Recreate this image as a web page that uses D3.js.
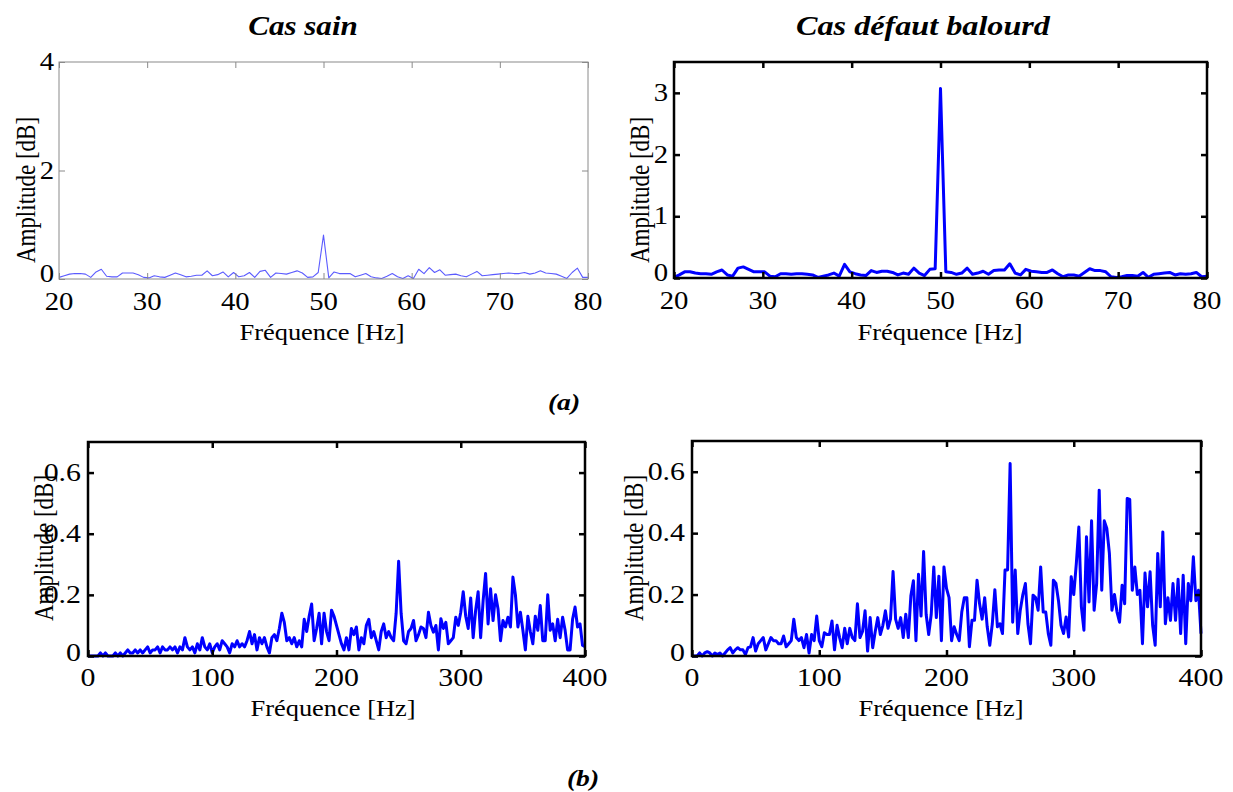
<!DOCTYPE html>
<html>
<head>
<meta charset="utf-8">
<script src="https://cdn.jsdelivr.net/npm/d3@7"></script>
<style>
  html, body { margin: 0; padding: 0; background: #fff; }
  svg text { font-family: "Liberation Serif", "Times New Roman", serif; fill: #000; }
</style>
</head>
<body>
<div id="chart"></div>
<script>
// frequency grids (Hz)
var topStart = 20, topStep = 0.6, topEnd = 80;
var botStart = 0, botStep = 2, botEnd = 400;

// tick labels
var topXTicks = [20, 30, 40, 50, 60, 70, 80];
var sainTopYTicks = [0, 2, 4];
var balTopYTicks = [0, 1, 2, 3];
var botXTicks = [0, 100, 200, 300, 400];
var botYTicks = [0, 0.2, 0.4, 0.6];

// (a) Cas sain, 20-80 Hz
var sainLow = [
  0.03, 0.06, 0.09, 0.10, 0.10, 0.09, 0.03, 0.13, 0.18, 0.05,
  0.04, 0.04, 0.11, 0.11, 0.11, 0.08, 0.03, 0.02, 0.06, 0.04,
  0.03, 0.07, 0.11, 0.08, 0.04, 0.05, 0.07, 0.07, 0.15, 0.06,
  0.08, 0.13, 0.04, 0.12, 0.04, 0.06, 0.12, 0.03, 0.14, 0.16,
  0.03, 0.11, 0.10, 0.09, 0.12, 0.15, 0.11, 0.03, 0.04, 0.12,
  0.81, 0.02, 0.13, 0.10, 0.10, 0.10, 0.04, 0.07, 0.10, 0.04,
  0.02, 0.01, 0.05, 0.10, 0.04, 0.01, 0.06, 0.01, 0.18, 0.10,
  0.21, 0.12, 0.17, 0.07, 0.08, 0.09, 0.06, 0.04, 0.09, 0.14,
  0.06, 0.07, 0.08, 0.09, 0.10, 0.11, 0.10, 0.10, 0.12, 0.09,
  0.11, 0.15, 0.11, 0.10, 0.09, 0.05, 0.01, 0.12, 0.20, 0.03,
  0.03
];

// (a) Cas défaut balourd, 20-80 Hz
var balourdLow = [
  0.01, 0.05, 0.10, 0.10, 0.08, 0.07, 0.07, 0.06, 0.10, 0.13,
  0.05, 0.03, 0.16, 0.18, 0.14, 0.10, 0.10, 0.10, 0.03, 0.02,
  0.07, 0.07, 0.06, 0.07, 0.07, 0.06, 0.05, 0.01, 0.03, 0.05,
  0.08, 0.03, 0.22, 0.10, 0.07, 0.05, 0.04, 0.12, 0.09, 0.11,
  0.11, 0.09, 0.05, 0.08, 0.06, 0.16, 0.08, 0.04, 0.14, 0.15,
  3.07, 0.10, 0.09, 0.06, 0.08, 0.16, 0.06, 0.08, 0.11, 0.06,
  0.12, 0.13, 0.13, 0.23, 0.08, 0.05, 0.14, 0.11, 0.10, 0.09,
  0.09, 0.13, 0.07, 0.02, 0.05, 0.05, 0.03, 0.09, 0.15, 0.12,
  0.12, 0.10, 0.02, 0.01, 0.02, 0.04, 0.04, 0.03, 0.09, 0.01,
  0.06, 0.07, 0.08, 0.09, 0.05, 0.07, 0.06, 0.07, 0.09, 0.02,
  0.03
];

// (b) Cas sain, 0-400 Hz
var sainHigh = [
  0.00, 0.00, 0.00, 0.00, 0.00, 0.01, 0.00, 0.01, 0.00, 0.00,
  0.00, 0.01, 0.00, 0.01, 0.00, 0.01, 0.02, 0.01, 0.01, 0.02,
  0.01, 0.02, 0.01, 0.02, 0.03, 0.01, 0.02, 0.02, 0.03, 0.01,
  0.03, 0.02, 0.02, 0.03, 0.02, 0.03, 0.01, 0.03, 0.02, 0.06,
  0.03, 0.02, 0.03, 0.01, 0.04, 0.02, 0.06, 0.03, 0.02, 0.04,
  0.01, 0.03, 0.04, 0.02, 0.05, 0.04, 0.03, 0.01, 0.04, 0.03,
  0.05, 0.03, 0.04, 0.03, 0.05, 0.08, 0.04, 0.07, 0.02, 0.06,
  0.04, 0.06, 0.03, 0.01, 0.06, 0.07, 0.05, 0.09, 0.14, 0.11,
  0.05, 0.06, 0.04, 0.06, 0.03, 0.05, 0.03, 0.12, 0.08, 0.13,
  0.17, 0.05, 0.09, 0.14, 0.04, 0.14, 0.08, 0.05, 0.15, 0.13,
  0.10, 0.07, 0.04, 0.02, 0.06, 0.02, 0.09, 0.07, 0.095, 0.02,
  0.06, 0.04, 0.10, 0.12, 0.06, 0.08, 0.05, 0.02, 0.08, 0.105,
  0.06, 0.08, 0.06, 0.05, 0.14, 0.31, 0.14, 0.05, 0.04, 0.08,
  0.09, 0.116, 0.05, 0.07, 0.095, 0.09, 0.06, 0.143, 0.10, 0.078,
  0.10, 0.02, 0.122, 0.09, 0.11, 0.04, 0.05, 0.06, 0.127, 0.10,
  0.143, 0.21, 0.13, 0.09, 0.19, 0.06, 0.15, 0.21, 0.06, 0.18,
  0.27, 0.105, 0.22, 0.116, 0.20, 0.154, 0.05, 0.116, 0.095, 0.127,
  0.095, 0.258, 0.20, 0.095, 0.143, 0.084, 0.02, 0.13, 0.08, 0.04,
  0.13, 0.084, 0.165, 0.05, 0.05, 0.20, 0.084, 0.105, 0.05, 0.12,
  0.06, 0.127, 0.084, 0.02, 0.02, 0.12, 0.16, 0.095, 0.105, 0.035,
  0.03
];

// (b) Cas défaut balourd, 0-400 Hz
var balourdHigh = [
  0.00, 0.00, 0.00, 0.01, 0.00, 0.01, 0.014, 0.01, 0.00, 0.01,
  0.005, 0.01, 0.00, 0.01, 0.02, 0.027, 0.01, 0.02, 0.027, 0.02,
  0.02, 0.005, 0.027, 0.03, 0.06, 0.016, 0.04, 0.05, 0.06, 0.02,
  0.04, 0.06, 0.05, 0.05, 0.04, 0.04, 0.065, 0.03, 0.04, 0.05,
  0.12, 0.06, 0.05, 0.06, 0.027, 0.07, 0.01, 0.07, 0.05, 0.13,
  0.05, 0.03, 0.076, 0.07, 0.07, 0.114, 0.02, 0.10, 0.06, 0.027,
  0.09, 0.04, 0.09, 0.06, 0.05, 0.17, 0.06, 0.08, 0.147, 0.016,
  0.125, 0.027, 0.08, 0.125, 0.07, 0.10, 0.147, 0.09, 0.12, 0.275,
  0.12, 0.09, 0.125, 0.06, 0.136, 0.06, 0.196, 0.245, 0.05, 0.266,
  0.13, 0.34, 0.136, 0.07, 0.136, 0.29, 0.125, 0.26, 0.05, 0.29,
  0.22, 0.19, 0.05, 0.095, 0.07, 0.05, 0.143, 0.19, 0.19, 0.03,
  0.116, 0.116, 0.247, 0.17, 0.12, 0.19, 0.095, 0.035, 0.105, 0.216,
  0.095, 0.105, 0.073, 0.28, 0.28, 0.627, 0.11, 0.28, 0.073, 0.15,
  0.20, 0.236, 0.105, 0.04, 0.198, 0.19, 0.149, 0.29, 0.143, 0.143,
  0.073, 0.035, 0.247, 0.236, 0.18, 0.10, 0.073, 0.127, 0.062, 0.258,
  0.20, 0.30, 0.42, 0.16, 0.084, 0.388, 0.176, 0.44, 0.149, 0.236,
  0.54, 0.214, 0.44, 0.415, 0.334, 0.149, 0.20, 0.143, 0.11, 0.23,
  0.17, 0.513, 0.51, 0.214, 0.29, 0.20, 0.214, 0.04, 0.27, 0.16,
  0.274, 0.10, 0.035, 0.334, 0.16, 0.404, 0.105, 0.19, 0.116, 0.236,
  0.116, 0.25, 0.073, 0.263, 0.04, 0.236, 0.18, 0.323, 0.18, 0.214,
  0.073
];

var W = 1233, H = 792;
var SX = 1.15;   // the figure is wider than tall, stretch text to match

var svg = d3.select('#chart').append('svg')
  .attr('width', W).attr('height', H);

function txt(g, x, y, s, size, opts) {
  opts = opts || {};
  var t = g.append('text')
    .attr('transform', 'translate(' + x + ',' + y + ') scale(' + SX + ',1)' + (opts.rot ? ' rotate(-90)' : ''))
    .attr('text-anchor', opts.anchor || 'middle')
    .style('font-size', size + 'px')
    .text(s);
  if (opts.bold) t.style('font-weight', 'bold');
  if (opts.italic) t.style('font-style', 'italic');
  if (opts.baseline) t.attr('dominant-baseline', opts.baseline);
  return t;
}

function grid(start, step, n) {
  var out = [];
  for (var i = 0; i < n; i++) out.push(+(start + step * i).toFixed(3));
  return out;
}

function drawPanel(p) {
  var g = svg.append('g');
  var x = d3.scaleLinear().domain(p.xDomain).range([p.left, p.right]);
  var y = d3.scaleLinear().domain(p.yDomain).range([p.bottom, p.top]);
  var frame = p.thin ? '#8a8a8a' : '#000';
  var fw = p.thin ? 1 : 2.5;

  var freqs = grid(p.xDomain[0], p.step, p.values.length);
  var line = d3.line()
    .x(function(d, i) { return x(freqs[i]); })
    .y(function(d) { return y(d); });

  g.append('path')
    .datum(p.values)
    .attr('d', line)
    .attr('fill', 'none')
    .attr('stroke', p.thin ? '#5b5bff' : '#0000ff')
    .attr('stroke-width', p.thin ? 1.1 : 3)
    .attr('stroke-linejoin', 'round');

  // axes: ticks pointing inward on all four sides
  var tk = 6;
  var axes = [
    { a: d3.axisBottom(x).tickValues(p.xTicks).tickFormat(''), t: 'translate(0,' + p.bottom + ')' },
    { a: d3.axisTop(x).tickValues(p.xTicks).tickFormat(''), t: 'translate(0,' + p.top + ')' },
    { a: d3.axisLeft(y).tickValues(p.yTicks).tickFormat(''), t: 'translate(' + p.left + ',0)' },
    { a: d3.axisRight(y).tickValues(p.yTicks).tickFormat(''), t: 'translate(' + p.right + ',0)' }
  ];
  axes.forEach(function(ax) {
    var ag = g.append('g').attr('transform', ax.t)
      .call(ax.a.tickSizeInner(-tk).tickSizeOuter(0));
    ag.select('.domain').remove();
    ag.selectAll('line').attr('stroke', frame).attr('stroke-width', fw);
  });

  g.append('rect')
    .attr('x', p.left).attr('y', p.top)
    .attr('width', p.right - p.left).attr('height', p.bottom - p.top)
    .attr('fill', 'none').attr('stroke', frame).attr('stroke-width', fw);

  p.xTicks.forEach(function(v) {
    txt(g, x(v), p.bottom + p.xoff, d3.format('d')(v), p.tfs);
  });
  p.yTicks.forEach(function(v, i) {
    var s = p.yFmt ? p.yFmt(v) : String(v);
    // the lowest label sits right above the x labels, lift it a little
    var dy = i === 0 ? p.zeroDy : 8;
    txt(g, p.left - p.ygap, y(v) + dy, s, p.tfs, { anchor: 'end' });
  });

  txt(g, p.xlabX, p.xlabY, 'Fréquence [Hz]', p.lfs);
  txt(g, p.ylabX, p.ylabY, 'Amplitude [dB]', p.lfs, { rot: true, baseline: 'central' });
}

var fmtBot = function(v) { return v === 0 ? '0' : d3.format('.1f')(v); };

drawPanel({ left: 59, right: 588, top: 62, bottom: 279, xDomain: [topStart, topEnd], yDomain: [0, 4],
  xTicks: topXTicks, yTicks: sainTopYTicks, step: topStep, values: sainLow, thin: true,
  tfs: 25, lfs: 23, ygap: 5, xoff: 31, zeroDy: 3, xlabX: 322, xlabY: 340, ylabX: 26, ylabY: 190 });
drawPanel({ left: 674, right: 1207, top: 62, bottom: 278, xDomain: [topStart, topEnd], yDomain: [0, 3.5],
  xTicks: topXTicks, yTicks: balTopYTicks, step: topStep, values: balourdLow,
  tfs: 25, lfs: 23, ygap: 6, xoff: 31, zeroDy: 3, xlabX: 940, xlabY: 340, ylabX: 640, ylabY: 190 });
drawPanel({ left: 88, right: 585, top: 442, bottom: 656, xDomain: [botStart, botEnd], yDomain: [0, 0.7],
  xTicks: botXTicks, yTicks: botYTicks, step: botStep, values: sainHigh, yFmt: fmtBot,
  tfs: 26, lfs: 23, ygap: 7, xoff: 30, zeroDy: 5, xlabX: 333, xlabY: 716, ylabX: 44, ylabY: 548 });
drawPanel({ left: 692, right: 1201, top: 441, bottom: 656, xDomain: [botStart, botEnd], yDomain: [0, 0.7],
  xTicks: botXTicks, yTicks: botYTicks, step: botStep, values: balourdHigh, yFmt: fmtBot,
  tfs: 26, lfs: 23, ygap: 7, xoff: 30, zeroDy: 5, xlabX: 941, xlabY: 716, ylabX: 634, ylabY: 548 });

txt(svg, 303, 35, 'Cas sain', 27, { bold: true, italic: true });
txt(svg, 923, 35, 'Cas défaut balourd', 28, { bold: true, italic: true });
txt(svg, 564, 410, '(a)', 24, { bold: true, italic: true });
txt(svg, 583, 786, '(b)', 24, { bold: true, italic: true });
</script>
</body>
</html>
